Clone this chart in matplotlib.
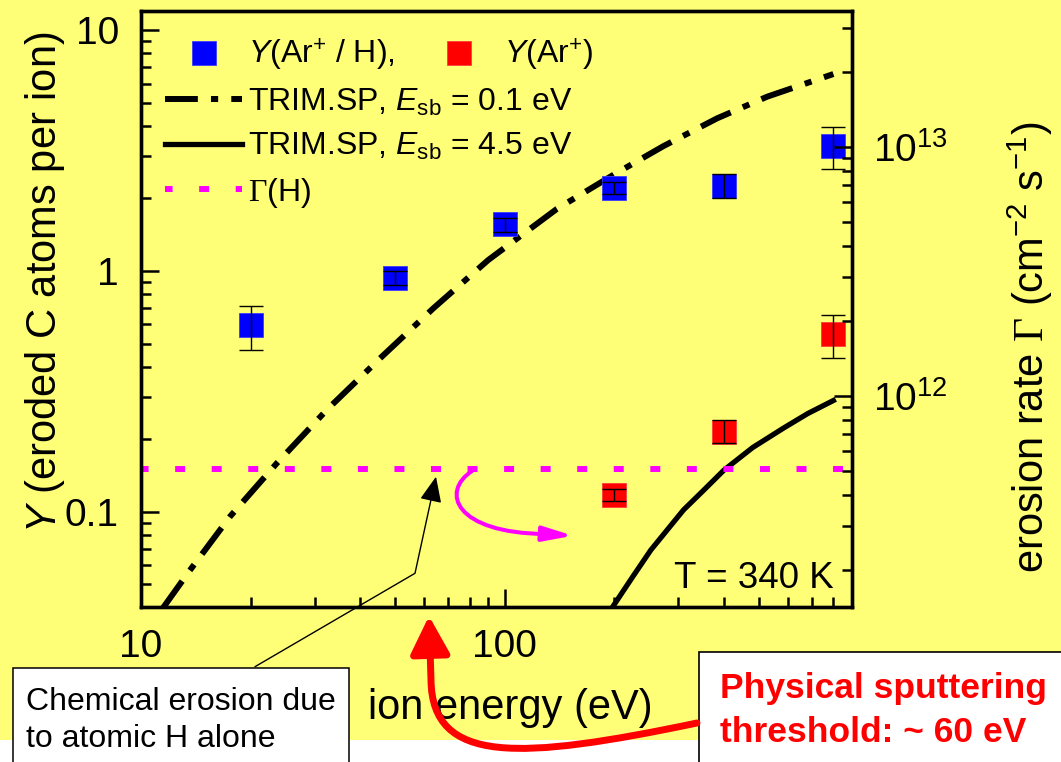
import numpy as np
import matplotlib
matplotlib.use('Agg')
import matplotlib.pyplot as plt
import matplotlib.ticker as ticker
from matplotlib.patches import Rectangle, FancyArrowPatch
from matplotlib.path import Path

plt.rcParams['font.family'] = ['Liberation Sans', 'DejaVu Sans']
plt.rcParams['mathtext.fontset'] = 'custom'
plt.rcParams['mathtext.rm'] = 'Liberation Sans'
plt.rcParams['mathtext.it'] = 'Liberation Sans:italic'
plt.rcParams['mathtext.sf'] = 'Liberation Serif'
plt.rcParams['mathtext.bf'] = 'Liberation Sans:bold'

# DATA
energy = [20, 50, 100, 200, 400, 800]
yield_ar_h = [0.597, 0.938, 1.56, 2.22, 2.25, 3.30]
yield_ar_h_hi = [0.718, 1.003, 1.66, 2.35, 2.52, 3.97]
yield_ar_h_lo = [0.470, 0.877, 1.45, 2.09, 2.01, 2.64]

energy_ar = [200, 400, 800]
yield_ar = [0.117, 0.215, 0.548]
yield_ar_hi = [0.124, 0.241, 0.656]
yield_ar_lo = [0.111, 0.193, 0.437]

trim01_x = [11.5, 13.6, 17.6, 23.6, 32.4, 45.4, 63.6, 90, 139, 200, 273, 383, 526, 800]
trim01_y = [0.040, 0.057, 0.096, 0.159, 0.265, 0.434, 0.70, 1.11, 1.81, 2.52, 3.30, 4.30, 5.29, 6.57]

trim45_x = [198, 225, 252, 310, 350, 400, 480, 584, 680, 800]
trim45_y = [0.0404, 0.054, 0.0695, 0.102, 0.122, 0.149, 0.185, 0.223, 0.256, 0.290]

gamma_h_x = [10, 850]
gamma_h_y = [0.15, 0.15]

x_ticks = [10, 100]
x_tick_labels = ['10', '100']
y_ticks = [0.1, 1, 10]
y_tick_labels = ['0.1', '1', '10']
rate_ticks = [1e12, 1e13]
rate_tick_labels = [r'$10^{12}$', r'$10^{13}$']

x_lim = (10, 900)
y_lim = (0.0403, 12.0)
rate_lim = (10**11.151, 10**13.545)

chem_lines = ['Chemical erosion due', 'to atomic H alone']
phys_lines = ['Physical sputtering', 'threshold: ~ 60 eV']

# COLOURS
yellow = '#ffff77'
blue = '#0000ff'
red = '#ff0000'
magenta = '#ff00ff'

W, H = 1061, 762


def fig_xy(px, py):
    # pixel position (from top left) -> figure fraction
    return (px / W, 1 - py / H)


fig = plt.figure(figsize=(W / 100, H / 100), dpi=100, facecolor=yellow)
ax = fig.add_axes([141 / W, 1 - 607 / H, (852 - 141) / W, (607 - 11) / H])
ax.set_facecolor(yellow)
ax.set_xscale('log')
ax.set_yscale('log')

# white strip at the very bottom
fig.add_artist(Rectangle((0, 0), 1, (H - 740) / H, transform=fig.transFigure,
                         facecolor='white', edgecolor='none', zorder=-1))

# model curves
h01, = ax.plot(trim01_x, trim01_y, color='black', lw=4.3,
               ls=(0, (5.5, 2.2, 1.2, 2.2)), dash_capstyle='butt', zorder=2)
h45, = ax.plot(trim45_x, trim45_y, color='black', lw=3.8, zorder=2)
hg, = ax.plot(gamma_h_x, gamma_h_y, color=magenta, lw=4.3,
              ls=(0.4, (1.67, 4.45)), dash_capstyle='butt', zorder=2)

# measured yields
hb, = ax.plot(energy, yield_ar_h, 's', color=blue, ms=17, mec='#3c3cff', mew=0.6, zorder=3)
hr, = ax.plot(energy_ar, yield_ar, 's', color=red, ms=17, mec='#ff3c3c', mew=0.6, zorder=3)

err_b = [np.array(yield_ar_h) - np.array(yield_ar_h_lo), np.array(yield_ar_h_hi) - np.array(yield_ar_h)]
err_r = [np.array(yield_ar) - np.array(yield_ar_lo), np.array(yield_ar_hi) - np.array(yield_ar)]
ax.errorbar(energy, yield_ar_h, yerr=err_b, fmt='none', ecolor='black',
            elinewidth=1, capsize=8.5, capthick=1, zorder=4)
ax.errorbar(energy_ar, yield_ar, yerr=err_r, fmt='none', ecolor='black',
            elinewidth=1, capsize=8.5, capthick=1, zorder=4)

ax.set_xlim(*x_lim)
ax.set_ylim(*y_lim)
ax.set_xticks(x_ticks)
ax.set_xticklabels(x_tick_labels)
ax.set_yticks(y_ticks)
ax.set_yticklabels(y_tick_labels)
ax.xaxis.set_minor_formatter(ticker.NullFormatter())
ax.yaxis.set_minor_formatter(ticker.NullFormatter())
ax.tick_params(which='major', direction='in', length=13, width=1.8, labelsize=28,
               pad=16, top=False, right=False)
ax.tick_params(which='minor', direction='in', length=7, width=1.8, top=False, right=False)
for s in ax.spines.values():
    s.set_linewidth(2.4)

ax.set_xlabel('ion energy (eV)', fontsize=30)
ax.xaxis.set_label_coords(0.519, -0.1695)
ax.xaxis.label.set_va('center')
ax.set_ylabel(r'$\mathit{Y}$ (eroded C atoms per ion)', fontsize=30)
ax.yaxis.set_label_coords(-0.135, 0.545)
ax.yaxis.label.set_va('center')

# right axis: erosion rate
ax2 = ax.twinx()
ax2.set_yscale('log')
ax2.set_ylim(*rate_lim)
ax2.set_yticks(rate_ticks)
ax2.set_yticklabels(rate_tick_labels)
ax2.yaxis.set_minor_formatter(ticker.NullFormatter())
ax2.tick_params(which='major', direction='in', length=13, width=1.8, labelsize=28, pad=15)
ax2.tick_params(which='minor', direction='in', length=7, width=1.8)
for s in ax2.spines.values():
    s.set_linewidth(2.4)
ax2.set_ylabel(r'erosion rate $\mathsf{\Gamma}$ (cm$^{-2}$ s$^{-1}$)', fontsize=30)
ax2.yaxis.set_label_coords(1.2504, 0.436)
ax2.yaxis.label.set_va('center')

# legends
leg_kw = dict(frameon=False, fontsize=23, handlelength=2.4, handletextpad=0.2,
              borderpad=0, borderaxespad=0, numpoints=1, loc='center left')
leg1 = ax.legend([hb, hr], [r'$\mathit{Y}$(Ar$^{+}$ / H),', r'$\mathit{Y}$(Ar$^{+}$)'],
                 bbox_to_anchor=(0.034, 0.926), ncol=2, columnspacing=0.8, **leg_kw)
ax.add_artist(leg1)
ax.legend([h01, h45, hg],
          [r'TRIM.SP, $\mathit{E}_{\mathrm{sb}}$ = 0.1 eV',
           r'TRIM.SP, $\mathit{E}_{\mathrm{sb}}$ = 4.5 eV',
           r'$\mathsf{\Gamma}$(H)'],
          bbox_to_anchor=(0.034, 0.770), labelspacing=0.42, **leg_kw)

ax.text(0.9747, 0.0319, 'T = 340 K', transform=ax.transAxes, ha='right',
        va='baseline', fontsize=26.5)

# text boxes
x0, y0 = fig_xy(12.7, 667.7)
x1, _ = fig_xy(349.3, 0)
fig.add_artist(Rectangle((x0, -0.1), x1 - x0, y0 + 0.1, transform=fig.transFigure,
                         facecolor='white', edgecolor='black', lw=1.1, zorder=5))
for line, base in zip(chem_lines, [710, 746.7]):
    fig.text(*fig_xy(26, base), line, fontsize=23, va='baseline', ha='left', zorder=6)

x0, y0 = fig_xy(699, 652.3)
fig.add_artist(Rectangle((x0, -0.1), 1.1 - x0, y0 + 0.1, transform=fig.transFigure,
                         facecolor='white', edgecolor='black', lw=1.2, zorder=5))
for line, base in zip(phys_lines, [698.3, 741.7]):
    fig.text(*fig_xy(720, base), line, fontsize=25.5, fontweight='bold', color=red,
             va='baseline', ha='left', zorder=6)

# arrows
black_path = Path([fig_xy(255, 666.7), fig_xy(415, 573.3), fig_xy(436, 476.7)],
                  [Path.MOVETO, Path.LINETO, Path.LINETO])
fig.add_artist(FancyArrowPatch(path=black_path, transform=fig.transFigure,
                               arrowstyle='-|>,head_length=1.58,head_width=0.68',
                               mutation_scale=10, color='black', lw=1, zorder=7))

pink_path = Path([fig_xy(472, 471), fig_xy(440, 492), fig_xy(455, 533), fig_xy(545, 534),
                  fig_xy(573, 535.7)],
                 [Path.MOVETO, Path.CURVE4, Path.CURVE4, Path.CURVE4, Path.LINETO])
fig.add_artist(FancyArrowPatch(path=pink_path, transform=fig.transFigure,
                               arrowstyle='-|>,head_length=1.8,head_width=0.45',
                               mutation_scale=10, color=magenta, lw=2.9, zorder=7))

red_path = Path([fig_xy(697, 723), fig_xy(520, 760), fig_xy(432, 765), fig_xy(431, 680),
                 fig_xy(429, 616)],
                [Path.MOVETO, Path.CURVE4, Path.CURVE4, Path.CURVE4, Path.LINETO])
fig.add_artist(FancyArrowPatch(path=red_path, transform=fig.transFigure,
                               arrowstyle='-|>,head_length=2.3,head_width=1.2',
                               mutation_scale=10, color=red, lw=5, zorder=7))

fig.savefig('out.png', dpi=100, facecolor=yellow)
